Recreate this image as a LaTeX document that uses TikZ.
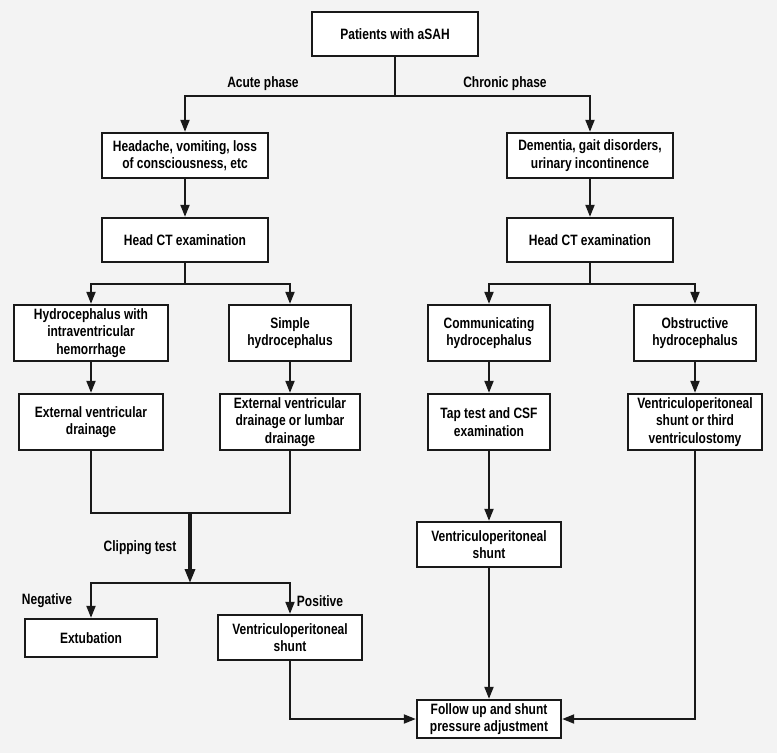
\documentclass[tikz,border=0pt]{standalone}
\usepackage{fontspec}
\setmainfont{Liberation Sans}[FakeStretch=0.8]
\usetikzlibrary{arrows.meta}
\definecolor{bgc}{HTML}{F3F3F3}
\begin{document}
\begin{tikzpicture}[x=1pt,y=-1pt,
  box/.style={draw=black!90, line width=2.4pt, fill=white, align=center, font=\fontsize{15}{17.5}\selectfont\bfseries, inner sep=2pt},
  lbl/.style={font=\fontsize{15}{17.5}\selectfont\bfseries, inner sep=0pt},
  conn/.style={line width=2pt, draw=black!90},
  arr/.style={conn, -{Triangle[length=12pt,width=9pt]}},
  thickarr/.style={line width=3.2pt, draw=black!90, -{Triangle[length=14pt,width=10pt]}}]
\fill[bgc] (0,0) rectangle (777,753);
\useasboundingbox (0,0) rectangle (777,753);

\node[box, minimum width=166pt, minimum height=44pt] (top) at (395,34) {Patients with aSAH};
\node[box, minimum width=166pt, minimum height=45pt] (head) at (185,155.5) {Headache, vomiting, loss\\of consciousness, etc};
\node[box, minimum width=166pt, minimum height=45pt] (dem) at (590,155.5) {Dementia, gait disorders,\\urinary incontinence};
\node[box, minimum width=166pt, minimum height=44pt] (ctl) at (185,240) {Head CT examination};
\node[box, minimum width=166pt, minimum height=44pt] (ctr) at (590,240) {Head CT examination};
\node[box, minimum width=154pt, minimum height=56pt] (ivh) at (91,333) {Hydrocephalus with\\intraventricular\\hemorrhage};
\node[box, minimum width=122pt, minimum height=56pt] (simp) at (290,333) {Simple\\hydrocephalus};
\node[box, minimum width=122pt, minimum height=56pt] (comm) at (489,333) {Communicating\\hydrocephalus};
\node[box, minimum width=122pt, minimum height=56pt] (obst) at (695,333) {Obstructive\\hydrocephalus};
\node[box, minimum width=144pt, minimum height=56pt] (evd) at (91,422) {External ventricular\\drainage};
\node[box, minimum width=140pt, minimum height=56pt] (evdl) at (290,422) {External ventricular\\drainage or lumbar\\drainage};
\node[box, minimum width=122pt, minimum height=56pt] (tap) at (489,422) {Tap test and CSF\\examination};
\node[box, minimum width=134pt, minimum height=56pt] (vpt) at (695,422) {Ventriculoperitoneal\\shunt or third\\ventriculostomy};
\node[box, minimum width=144pt, minimum height=45pt] (vpm) at (489,544.5) {Ventriculoperitoneal\\shunt};
\node[box, minimum width=132pt, minimum height=38pt] (ext) at (91,638) {Extubation};
\node[box, minimum width=144pt, minimum height=45pt] (vpl) at (290,637.5) {Ventriculoperitoneal\\shunt};
\node[box, minimum width=144pt, minimum height=38pt] (fu) at (489,719) {Follow up and shunt\\pressure adjustment};

\node[lbl] (acute) at (263,84) {Acute phase};
\node[lbl] (chronic) at (505,84) {Chronic phase};
\node[lbl] (clip) at (140,548) {Clipping test};
\node[lbl] (neg) at (47,601) {Negative};
\node[lbl] (pos) at (320,601) {Positive};

\coordinate (j1) at (395,96);
\coordinate (j2) at (185,284);
\coordinate (j3) at (590,284);
\coordinate (j4) at (190,513);
\coordinate (j5) at (190,583);

\draw[conn] (top.south) -- (j1);
\draw[arr] (j1) -| (head.north);
\draw[arr] (j1) -| (dem.north);
\draw[arr] (head) -- (ctl);
\draw[arr] (dem) -- (ctr);
\draw[conn] (ctl.south) -- (j2);
\draw[arr] (j2) -| (ivh.north);
\draw[arr] (j2) -| (simp.north);
\draw[conn] (ctr.south) -- (j3);
\draw[arr] (j3) -| (comm.north);
\draw[arr] (j3) -| (obst.north);
\draw[arr] (ivh) -- (evd);
\draw[arr] (simp) -- (evdl);
\draw[arr] (comm) -- (tap);
\draw[arr] (obst) -- (vpt);
\draw[conn] (evd.south) |- (j4) -| (evdl.south);
\draw[thickarr] (j4) -- (j5);
\draw[arr] (j5) -| (ext.north);
\draw[arr] (j5) -| (vpl.north);
\draw[arr] (tap) -- (vpm);
\draw[arr] (vpm) -- (fu);
\draw[arr] (vpl.south) |- (fu.west);
\draw[arr] (vpt.south) |- (fu.east);
\end{tikzpicture}
\end{document}
